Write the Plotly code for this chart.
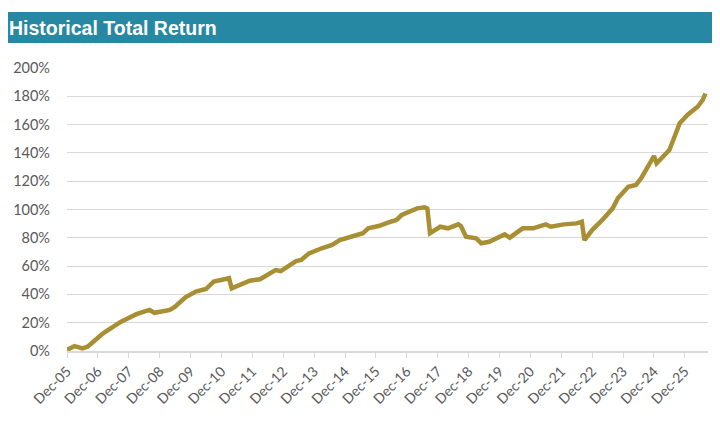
import plotly.graph_objects as go

# month-end points
dates = [
    "2005-12-01", "2006-03-01", "2006-06-01", "2006-08-01", "2006-11-01",
    "2007-02-01", "2007-05-01", "2007-09-01", "2008-03-01", "2008-08-01",
    "2008-10-01", "2009-04-01", "2009-06-01", "2009-10-01", "2010-02-01",
    "2010-06-01", "2010-09-01", "2011-02-01", "2011-03-01", "2011-04-01",
    "2011-07-01", "2011-11-01", "2012-03-01", "2012-06-01", "2012-09-01",
    "2012-11-01", "2013-05-01", "2013-07-01", "2013-10-01", "2014-03-01",
    "2014-07-01", "2014-10-01", "2015-03-01", "2015-07-01", "2015-09-01",
    "2016-01-01", "2016-05-01", "2016-08-01", "2016-10-01", "2017-02-01",
    "2017-04-01", "2017-07-01", "2017-08-01", "2017-09-01", "2018-01-01",
    "2018-04-01", "2018-08-01", "2018-09-01", "2018-11-01", "2019-03-01",
    "2019-05-01", "2019-08-01", "2019-11-01", "2020-02-01", "2020-04-01",
    "2020-09-01", "2021-01-01", "2021-06-01", "2021-08-01", "2022-01-01",
    "2022-06-01", "2022-08-01", "2022-09-01", "2022-12-01", "2023-04-01",
    "2023-08-01", "2023-10-01", "2024-02-01", "2024-05-01", "2024-07-01",
    "2024-10-01", "2024-12-01", "2025-01-01", "2025-03-01", "2025-06-01",
    "2025-08-01", "2025-10-01", "2026-01-01", "2026-05-01", "2026-07-01",
    "2026-08-01",
]
total_return = [
    0.8, 3.5, 1.9, 3.0, 7.8,
    12.5, 16.0, 20.7, 26.0, 29.0,
    27.0, 29.0, 31.3, 38.0, 42.0,
    43.8, 49.0, 51.0, 51.4, 44.3,
    46.6, 49.7, 50.7, 53.7, 57.2,
    56.5, 63.6, 64.3, 69.0, 72.6,
    74.9, 78.4, 81.5, 83.2, 86.7,
    88.3, 90.9, 92.6, 96.1, 99.2,
    100.8, 101.5, 100.5, 83.2, 87.8,
    86.7, 89.5, 88.3, 80.8, 79.6,
    76.1, 77.2, 80.1, 82.4, 80.1,
    86.7, 86.7, 89.5, 87.8, 89.5,
    90.2, 91.4, 78.4, 85.5, 92.6,
    100.8, 107.9, 116.0, 117.3, 122.0,
    131.4, 137.8, 132.6, 136.2, 142.0,
    151.4, 160.9, 166.8, 172.6, 177.4,
    182.0,
]
y_ticks = [0, 20, 40, 60, 80, 100, 120, 140, 160, 180, 200]
y_labels = ["%d%%" % v for v in y_ticks]
x_years = list(range(2005, 2026))
x_ticks = ["%d-12-01" % y for y in x_years]
x_labels = ["Dec-%02d" % (y % 100) for y in x_years]

fig = go.Figure()
fig.add_trace(go.Scatter(
    x=dates, y=total_return, mode="lines",
    line=dict(color="#A88F34", width=4.5),
    showlegend=False))

# title bar
fig.add_shape(type="rect", xref="paper", yref="paper",
              x0=-0.095, x1=1.0156, y0=1.088, y1=1.198,
              fillcolor="#2788A4", line=dict(width=0), layer="below")
fig.add_annotation(text="<b>Historical Total Return</b>", xref="paper", yref="paper",
                   x=-0.094, y=1.141, xanchor="left", yanchor="middle", showarrow=False,
                   font=dict(family="Liberation Sans", size=19.5, color="white"))

fig.update_xaxes(
    range=["2005-12-01", "2026-09-01"],
    tickmode="array", tickvals=x_ticks, ticktext=x_labels,
    tickangle=-45, ticks="outside", ticklen=5, tickcolor="#D9D9D9",
    showline=True, linecolor="#D9D9D9", linewidth=1.5,
    showgrid=False, zeroline=False, automargin=False,
    tickfont=dict(family="Lato", size=14, color="#595959"))
fig.update_yaxes(
    range=[0, 200], tickmode="array", tickvals=y_ticks, ticktext=y_labels,
    showgrid=True, gridcolor="#D9D9D9", gridwidth=1.3, zeroline=False,
    ticks="", ticklabelstandoff=16, automargin=False,
    tickfont=dict(family="Lato", size=14.5, color="#595959"))

fig.update_layout(
    width=720, height=440,
    margin=dict(l=59, r=20, t=60, b=97),
    plot_bgcolor="white", paper_bgcolor="white")

fig.write_html("out.html")
